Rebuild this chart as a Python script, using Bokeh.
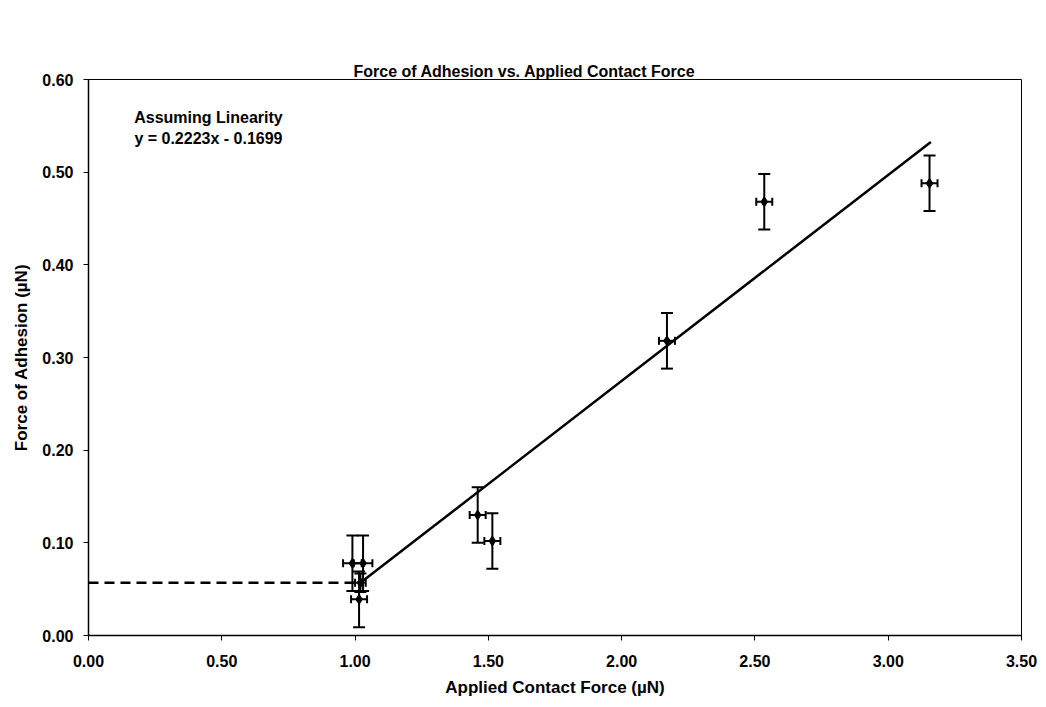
from bokeh.plotting import figure
from bokeh.models import (ColumnDataSource, Whisker, TeeHead, Label, Title, FixedTicker,
                          Range1d, LinearAxis)
from bokeh.embed import file_html
from bokeh.resources import INLINE

# Data
contact_force = [0.99, 1.03, 1.02, 1.015, 1.46, 1.515, 2.17, 2.535, 3.155]
adhesion = [0.078, 0.078, 0.057, 0.039, 0.130, 0.102, 0.318, 0.468, 0.488]
y_err = [0.03, 0.03, 0.01, 0.03, 0.03, 0.03, 0.03, 0.03, 0.03]
x_err = [0.035, 0.035, 0.02, 0.03, 0.03, 0.03, 0.03, 0.03, 0.03]

slope = 0.2223
intercept = -0.1699
fit_x = [1.02, 3.16]
fit_y = [slope * v + intercept for v in fit_x]

dash_x = [0.0, 1.0]
dash_y = [0.057, 0.057]

x_ticks = [0.0, 0.5, 1.0, 1.5, 2.0, 2.5, 3.0, 3.5]
y_ticks = [0.0, 0.1, 0.2, 0.3, 0.4, 0.5, 0.6]

title_text = "Force of Adhesion vs. Applied Contact Force"
note_lines = ["Assuming Linearity", "y = 0.2223x - 0.1699"]

FONT = "Liberation Sans"

src = ColumnDataSource(dict(
    x=contact_force, y=adhesion,
    ylo=[a - e for a, e in zip(adhesion, y_err)],
    yhi=[a + e for a, e in zip(adhesion, y_err)],
    xlo=[a - e for a, e in zip(contact_force, x_err)],
    xhi=[a + e for a, e in zip(contact_force, x_err)],
))

p = figure(width=1046, height=707, output_backend="svg", toolbar_location=None,
           x_range=Range1d(0, 3.5), y_range=Range1d(0, 0.6),
           min_border_left=88, min_border_right=25, min_border_top=79, min_border_bottom=72)

p.title = None
xb = p.below[0]
yl = p.left[0]

p.xgrid.visible = False
p.ygrid.visible = False
p.outline_line_color = "black"
p.outline_line_width = 1

for ax in (xb, yl):
    ax.axis_line_color = "black"
    ax.axis_line_width = 1.5
    ax.major_tick_line_color = "black"
    ax.major_tick_out = 5
    ax.major_tick_in = 0
    ax.minor_tick_line_color = None
    ax.major_label_text_font = FONT
    ax.major_label_text_font_style = "bold"
    ax.major_label_text_font_size = "16px"
    ax.major_label_text_color = "black"
    ax.axis_label_text_font = FONT
    ax.axis_label_text_font_style = "bold"
    ax.axis_label_text_font_size = "17px"
    ax.axis_label_text_color = "black"

xb.ticker = FixedTicker(ticks=x_ticks)
yl.ticker = FixedTicker(ticks=y_ticks)
xb.major_label_overrides = {v: f"{v:.2f}" for v in x_ticks}
yl.major_label_overrides = {v: f"{v:.2f}" for v in y_ticks}
xb.major_label_standoff = 14
yl.major_label_standoff = 10
xb.axis_label = "Applied Contact Force (\u00b5N)"
yl.axis_label = "Force of Adhesion (\u00b5N)"
xb.axis_label_standoff = 8
yl.axis_label_standoff = 8

# invisible spacer panel between the frame and the title
spacer = LinearAxis(ticker=FixedTicker(ticks=[]), axis_line_color=None,
                    major_tick_line_color=None, minor_tick_line_color=None,
                    major_tick_out=42, major_tick_in=0,
                    major_label_standoff=0, axis_label_standoff=0)
p.add_layout(spacer, "above")
p.add_layout(Title(text=title_text, align="left", offset=265, standoff=0,
                   text_font=FONT, text_font_size="16px", text_font_style="bold",
                   text_color="black"), "above")

# Lines
p.line(fit_x, fit_y, line_color="black", line_width=2.5)
p.line(dash_x, dash_y, line_color="black", line_width=2.5, line_dash="10 6")

# Error bars
p.add_layout(Whisker(source=src, base="x", lower="ylo", upper="yhi", dimension="height",
                     line_color="black", line_width=2,
                     upper_head=TeeHead(size=12, line_color="black", line_width=2),
                     lower_head=TeeHead(size=12, line_color="black", line_width=2)))
p.add_layout(Whisker(source=src, base="y", lower="xlo", upper="xhi", dimension="width",
                     line_color="black", line_width=2,
                     upper_head=TeeHead(size=8, line_color="black", line_width=2),
                     lower_head=TeeHead(size=8, line_color="black", line_width=2)))

p.scatter("x", "y", source=src, marker="diamond", size=10, fill_color="black", line_color="black")

# Annotation
p.add_layout(Label(x=0.45, y=0.559, text=note_lines[0], text_align="center",
                   text_baseline="middle", text_font=FONT, text_font_style="bold",
                   text_font_size="16px", text_color="black"))
p.add_layout(Label(x=0.45, y=0.536, text=note_lines[1], text_align="center",
                   text_baseline="middle", text_font=FONT, text_font_style="bold",
                   text_font_size="16px", text_color="black"))

open("out.html", "w").write(file_html(p, INLINE))
